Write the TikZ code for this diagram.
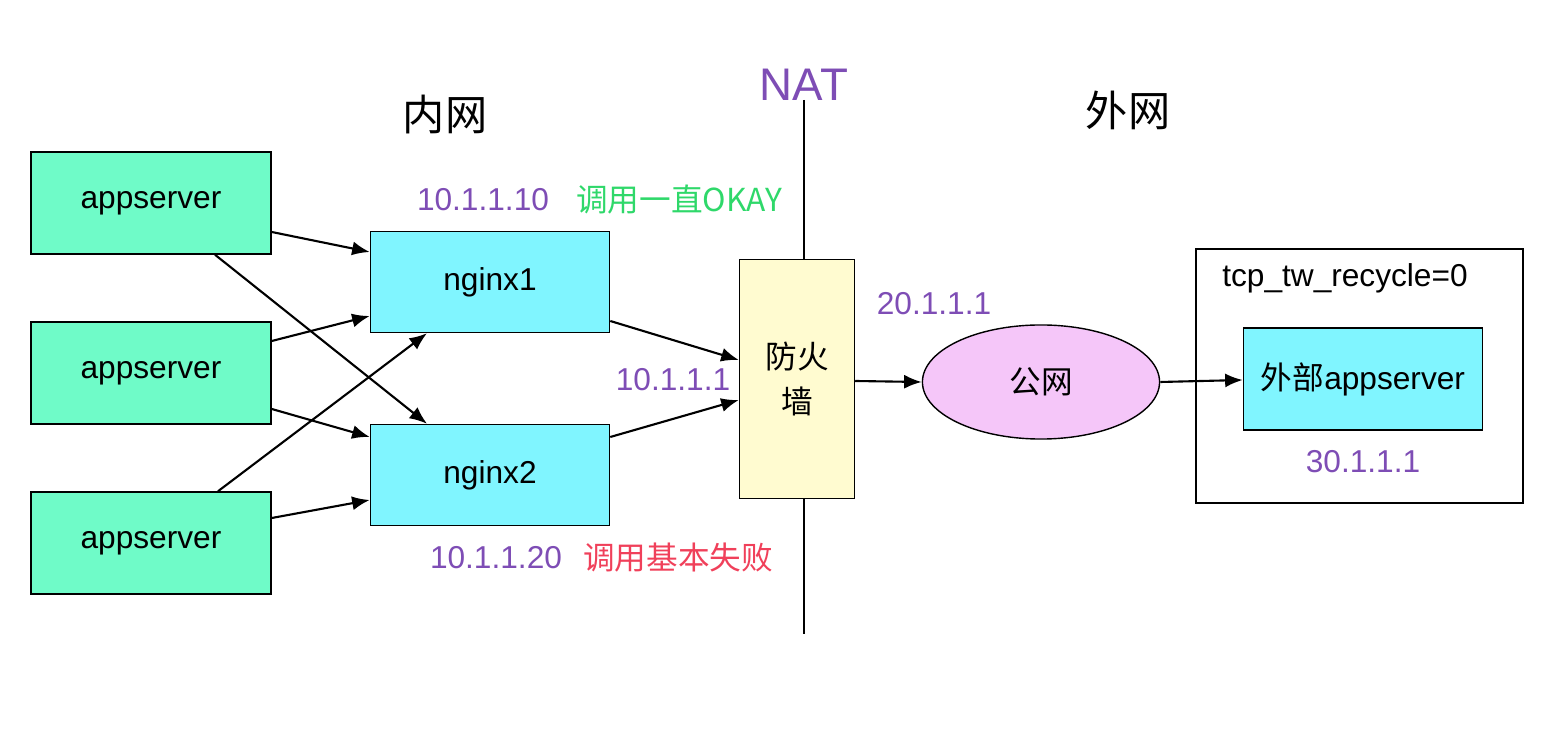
\documentclass[tikz,border=0pt]{standalone}
\usepackage{fontspec}
\setmainfont{Liberation Sans}
\newfontfamily\cjk{Noto Sans CJK SC}
\usetikzlibrary{calc, shapes.geometric, arrows.meta}
\definecolor{appgreen}{HTML}{6FFBC8}
\definecolor{nxcyan}{HTML}{80F5FF}
\definecolor{fwyellow}{HTML}{FFFBD0}
\definecolor{netpink}{HTML}{F5C6F9}
\definecolor{ippurple}{HTML}{7E4DB5}
\definecolor{okgreen}{HTML}{2FD86A}
\definecolor{failred}{HTML}{F0405A}
\tikzset{
	app/.style={draw, rectangle, fill=appgreen, minimum width=2.4cm, minimum height=1.02cm, font=\fontsize{9}{11}\selectfont},
	nx/.style={draw, rectangle, fill=nxcyan, minimum width=2.39cm, minimum height=1.01cm, font=\fontsize{9}{11}\selectfont},
	ip/.style={text=ippurple, font=\fontsize{9}{11}\selectfont},
	head/.style={font=\fontsize{12}{14}\selectfont\cjk},
	link/.style={-{Latex[length=5pt,width=4pt]}, semithick},
}
\begin{document}
\begin{tikzpicture}[x=0.01cm, y=-0.01cm]
	\useasboundingbox (0,0) rectangle (1544,746);
	
	% inner network
	\node (app1) [app] at (151,203) {appserver};
	\node (app2) [app] at (151,373) {appserver};
	\node (app3) [app] at (151,543) {appserver};
	\node (nginx1) [nx] at (490,282) {nginx1};
	\node (nginx2) [nx] at (490,475) {nginx2};
	
	% NAT border
	\node (nat) [text=ippurple, font=\fontsize{13}{15}\selectfont] at (804,85) {NAT};
	\node (fw) [draw, fill=fwyellow, minimum width=1.15cm, minimum height=2.39cm, align=center, font=\fontsize{9}{13}\selectfont\cjk] at (797,379) {防火\\墙};
	\coordinate (natT) at (804,100);
	\coordinate (natB) at (804,634);
	\draw (natT) -- (fw.north -| natT);
	\draw (fw.south -| natB) -- (natB);
	
	% outer network
	\node (pub) [draw, ellipse, fill=netpink, minimum width=2.37cm, minimum height=1.14cm, font=\fontsize{9}{11}\selectfont\cjk] at (1041,382) {公网};
	\node (outer) [draw, minimum width=3.27cm, minimum height=2.54cm] at (1359.5,376) {};
	\node (ext) [draw, fill=nxcyan, minimum width=2.39cm, minimum height=1.02cm, font=\fontsize{9}{11}\selectfont] at (1363,379) {{\cjk 外部}appserver};
	
	% labels
	\node (inner) [head] at (445,115) {内网};
	\node (outside) [head] at (1128,110) {外网};
	\node (ip1) [ip] at (483,200) {10.1.1.10};
	\node (ok) [text=okgreen, font=\fontsize{9}{11}\selectfont\cjk] at (679,200) {调用一直OKAY};
	\node (ip2) [ip] at (496,558) {10.1.1.20};
	\node (fail) [text=failred, font=\fontsize{9}{11}\selectfont\cjk] at (678,558) {调用基本失败};
	\node (ipfw) [ip] at (673,380) {10.1.1.1};
	\node (ippub) [ip] at (934,304) {20.1.1.1};
	\node (ipext) [ip] at (1363,462) {30.1.1.1};
	\node (sysctl) [font=\fontsize{9}{11}\selectfont] at (1345,278) {tcp\_tw\_recycle=0};
	
	% connections
	\draw[link] ($(app1.east)+(0,29)$) -- ($(nginx1.west)+(0,-30)$);
	\draw[link] ($(app1.south)+(64,0)$) -- ($(nginx2.north)+(-63,0)$);
	\draw[link] ($(app2.east)+(0,-32)$) -- ($(nginx1.west)+(0,34)$);
	\draw[link] ($(app2.east)+(0,36)$) -- ($(nginx2.west)+(0,-38)$);
	\draw[link] ($(app3.north)+(67,0)$) -- ($(nginx1.south)+(-63,0)$);
	\draw[link] ($(app3.east)+(0,-25)$) -- ($(nginx2.west)+(0,25)$);
	\draw[link] ($(nginx1.east)+(0,39)$) -- ($(fw.west)+(0,-19)$);
	\draw[link] ($(nginx2.east)+(0,-38)$) -- ($(fw.west)+(0,21)$);
	\draw[link] ($(fw.east)+(0,2)$) -- (pub.west);
	\draw[link] (pub.east) -- ($(ext.west)+(0,1)$);
\end{tikzpicture}
\end{document}
